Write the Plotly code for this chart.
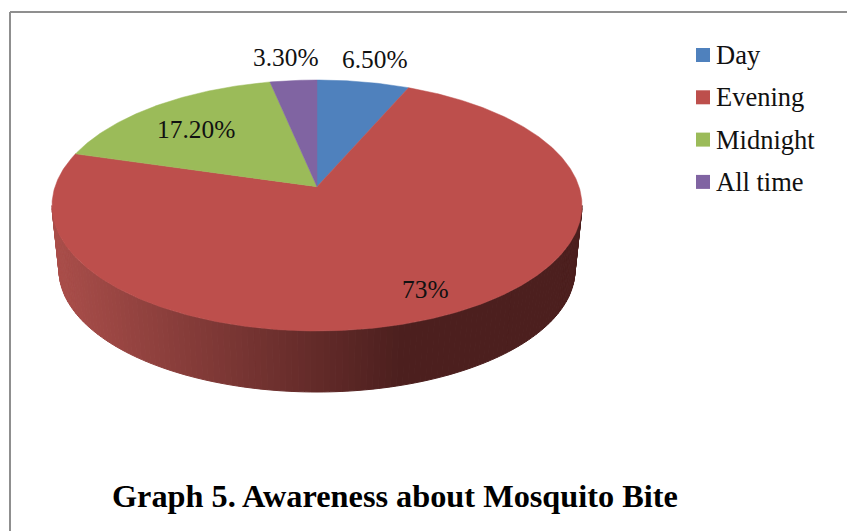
import math
import plotly.graph_objects as go

categories = ["Day", "Evening", "Midnight", "All time"]
values = [6.5, 73, 17.2, 3.3]
value_labels = ["6.50%", "73%", "17.20%", "3.30%"]
colors = ["#4f81bd", "#bd4f4c", "#9bbb59", "#8064a2"]
title_text = "Graph 5. Awareness about Mosquito Bite"

W, H = 847, 531
FONT = "Liberation Serif"
CX, CY, RX, RY = 317, 205.5, 265, 125.5     # top ellipse
BCY, BRX, BRY = 270, 258, 122               # lower rim ellipse
K = 0.86                                    # perspective squeeze
label_pos = [(374.5, 59), (425, 289), (196, 129), (286, 57)]


def rim(t_deg):
    h = math.radians(t_deg) / 2
    th = 2 * math.atan2(K * math.sin(h), math.cos(h))
    return CX + RX * math.sin(th), CY - RY * math.cos(th)


def lerp(a, b, f):
    return tuple(round(a[i] + (b[i] - a[i]) * f) for i in range(3))


fig = go.Figure()

# side wall, as shaded strips
N = 130
dark, light = (76, 31, 30), (170, 78, 74)
for i in range(N):
    a0 = math.radians(90 + 180 * i / N)
    a1 = math.radians(90 + 180 * (i + 1) / N)
    xs = [CX + RX * math.sin(a0), CX + RX * math.sin(a1), CX + BRX * math.sin(a1), CX + BRX * math.sin(a0)]
    ys = [CY - RY * math.cos(a0), CY - RY * math.cos(a1), BCY - BRY * math.cos(a1), BCY - BRY * math.cos(a0)]
    mx = sum(xs) / 4
    f = min(1, max(0, (mx - 55) / (400 - 55)))
    c = "rgb(%d,%d,%d)" % lerp(light, dark, f)
    fig.add_trace(go.Scatter(x=xs + xs[:1], y=ys + ys[:1], mode="lines", fill="toself",
                             fillcolor=c, line=dict(color=c, width=1),
                             hoverinfo="skip", showlegend=False))

# top face, one wedge per value
total = sum(values)
start = 0.0
ax, ay = CX, CY - RY * math.cos(2 * math.atan(K))
for name, v, col in zip(categories, values, colors):
    sweep = 360 * v / total
    n = max(4, int(sweep * 2))
    pts = [rim(start + sweep * j / n) for j in range(n + 1)]
    xs = [ax] + [p[0] for p in pts] + [ax]
    ys = [ay] + [p[1] for p in pts] + [ay]
    fig.add_trace(go.Scatter(x=xs, y=ys, mode="lines", fill="toself", fillcolor=col,
                             line=dict(color=col, width=0.5), name=name,
                             hoverinfo="name", showlegend=False))
    start += sweep

# legend
LX, LY, LSTEP, LTX = 703, 55, 42.3, 715
annotations = []
for i, (name, col) in enumerate(zip(categories, colors)):
    fig.add_trace(go.Scatter(x=[LX], y=[LY + i * LSTEP], mode="markers",
                             marker=dict(symbol="square", size=14, color=col),
                             hoverinfo="skip", showlegend=False, cliponaxis=False))
    annotations.append(dict(x=LTX, y=LY + i * LSTEP, xref="x", yref="y", text=name, showarrow=False,
                            xanchor="left", xshift=-1,
                            font=dict(family=FONT, size=26.5, color="#111111")))

annotations += [dict(x=x, y=y, xref="x", yref="y", text=t, showarrow=False,
                     font=dict(family=FONT, size=25.4, color="#111111"))
                for (x, y), t in zip(label_pos, value_labels)]
annotations.append(dict(x=395, y=496, xref="x", yref="y", text="<b>%s</b>" % title_text, showarrow=False,
                        font=dict(family=FONT, size=32.3, color="black")))

shapes = [dict(type="line", xref="x", yref="y", x0=10, x1=10, y0=12, y1=H, line=dict(color="#8f8f8f", width=2)),
          dict(type="line", xref="x", yref="y", x0=10, x1=W, y0=12, y1=12, line=dict(color="#8f8f8f", width=2))]

fig.update_layout(width=W, height=H, margin=dict(l=0, r=0, t=0, b=0), autosize=False,
                  paper_bgcolor="white", plot_bgcolor="white", showlegend=False,
                  xaxis=dict(range=[0, W], visible=False, fixedrange=True),
                  yaxis=dict(range=[H, 0], visible=False, fixedrange=True),
                  annotations=annotations, shapes=shapes)
fig.write_html("out.html", config=dict(displayModeBar=False),
               post_script="document.body.style.margin='0';document.body.style.overflow='hidden';")
